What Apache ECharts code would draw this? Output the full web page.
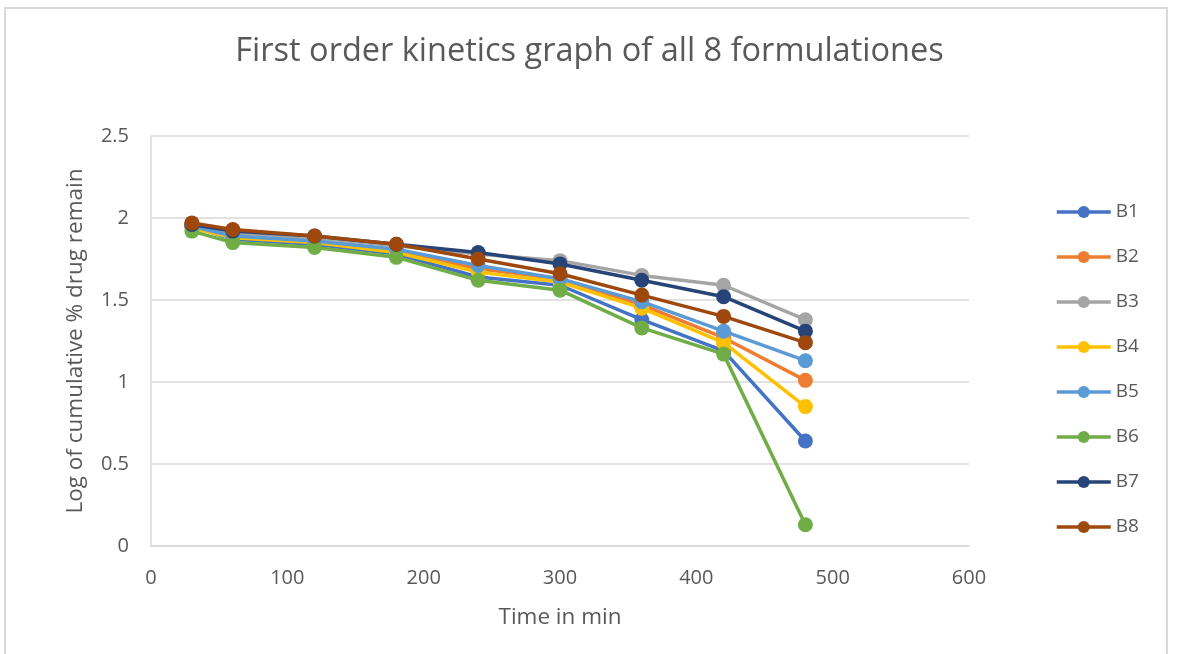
<!DOCTYPE html>
<html>
<head>
<meta charset="utf-8">
<script src="https://cdn.jsdelivr.net/npm/echarts@6/dist/echarts.min.js"></script>
<style>
html,body{margin:0;padding:0;background:#fff;}
#frame{position:absolute;left:4px;top:7px;width:1164px;height:660px;border:2px solid #d9d9d9;box-sizing:border-box;}
#chart{position:absolute;left:0;top:0;width:1179px;height:654px;}
</style>
</head>
<body>
<div id="frame"></div>
<div id="chart"></div>
<script>
const titleText = 'First order kinetics graph of all 8 formulationes';
const xAxisName = 'Time in min';
const yAxisName = 'Log of cumulative % drug remain';
const times = [30, 60, 120, 180, 240, 300, 360, 420, 480];
const seriesNames = ['B1', 'B2', 'B3', 'B4', 'B5', 'B6', 'B7', 'B8'];
const B1 = [1.95, 1.87, 1.84, 1.78, 1.64, 1.59, 1.38, 1.19, 0.64];
const B2 = [1.95, 1.89, 1.86, 1.80, 1.69, 1.63, 1.47, 1.27, 1.01];
const B3 = [1.96, 1.91, 1.88, 1.83, 1.78, 1.74, 1.65, 1.59, 1.38];
const B4 = [1.94, 1.88, 1.85, 1.79, 1.67, 1.61, 1.45, 1.24, 0.85];
const B5 = [1.95, 1.89, 1.86, 1.81, 1.71, 1.63, 1.49, 1.31, 1.13];
const B6 = [1.92, 1.85, 1.82, 1.76, 1.62, 1.56, 1.33, 1.17, 0.13];
const B7 = [1.96, 1.92, 1.89, 1.84, 1.79, 1.72, 1.62, 1.52, 1.31];
const B8 = [1.97, 1.93, 1.89, 1.84, 1.75, 1.66, 1.53, 1.40, 1.24];
const colors = ['#4472C4', '#ED7D31', '#A5A5A5', '#FFC000', '#5B9BD5', '#70AD47', '#264478', '#9E480E'];
const allValues = [B1, B2, B3, B4, B5, B6, B7, B8];

const font = '"Open Sans", "Noto Sans", sans-serif';
const chart = echarts.init(document.getElementById('chart'), null, {renderer: 'canvas'});
chart.setOption({
  animation: false,
  color: colors,
  title: {
    text: titleText,
    left: 'center',
    top: 30,
    textStyle: {fontFamily: font, fontSize: 32.5, fontWeight: 'normal', color: '#595959'}
  },
  grid: {left: 151, right: 210, top: 136, bottom: 108, containLabel: false},
  legend: {
    orient: 'vertical',
    left: 1050,
    top: 197,
    itemWidth: 54,
    itemHeight: 15,
    itemGap: 25,
    lineStyle: {width: 3.5},
    textStyle: {fontFamily: font, fontSize: 19, lineHeight: 20, color: '#595959'},
    data: seriesNames
  },
  xAxis: {
    type: 'value',
    min: 0, max: 600, interval: 100,
    name: xAxisName,
    nameLocation: 'middle',
    nameGap: 60,
    nameTextStyle: {fontFamily: font, fontSize: 22.5, color: '#595959'},
    axisLine: {show: true, lineStyle: {color: '#d9d9d9', width: 1.5}},
    axisTick: {show: false},
    axisLabel: {fontFamily: font, fontSize: 20, color: '#595959', margin: 22},
    splitLine: {show: false}
  },
  yAxis: {
    type: 'value',
    min: 0, max: 2.5, interval: 0.5,
    name: yAxisName,
    nameLocation: 'middle',
    nameGap: 64,
    nameTextStyle: {fontFamily: font, fontSize: 22.5, color: '#595959'},
    axisLine: {show: true, lineStyle: {color: '#d9d9d9', width: 1.5}},
    axisTick: {show: false},
    axisLabel: {fontFamily: font, fontSize: 20, color: '#595959', margin: 22},
    splitLine: {show: true, lineStyle: {color: '#d9d9d9', width: 1.5}}
  },
  series: seriesNames.map((n, i) => ({
    name: n,
    type: 'line',
    data: times.map((t, j) => [t, allValues[i][j]]),
    symbol: 'circle',
    symbolSize: 15,
    lineStyle: {width: 3.5, color: colors[i]},
    itemStyle: {color: colors[i]},
    z: 2 + i
  }))
});
</script>
</body>
</html>
